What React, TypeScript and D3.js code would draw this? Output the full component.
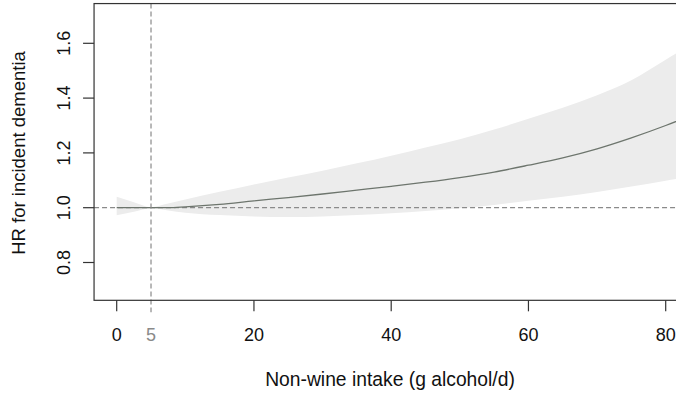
import React from "react";
import * as d3 from "d3";

// Restricted cubic spline fit: hazard ratio for incident dementia by non-wine intake
const intake = [0, 2.5, 5, 7.5, 10, 15, 20, 25, 30, 35, 40, 45, 50, 55, 60, 65, 70, 75, 80, 84];
const hr = [1.0, 1.0, 1.0, 1.0, 1.003, 1.012, 1.025, 1.037, 1.05, 1.064, 1.078, 1.093, 1.11, 1.13, 1.155, 1.182, 1.215, 1.255, 1.3, 1.34];
const upper = [1.04, 1.02, 1.002, 1.015, 1.03, 1.058, 1.085, 1.11, 1.135, 1.162, 1.19, 1.22, 1.25, 1.285, 1.325, 1.365, 1.41, 1.465, 1.54, 1.6];
const lower = [0.972, 0.985, 0.998, 0.99, 0.982, 0.973, 0.968, 0.966, 0.968, 0.973, 0.98, 0.988, 0.998, 1.01, 1.025, 1.04, 1.057, 1.077, 1.098, 1.115];

const xTicks = [0, 20, 40, 60, 80];
const yTicks = [0.8, 1.0, 1.2, 1.4, 1.6];
const refIntake = 5;
const refHR = 1.0;

const W = 676;
const H = 396;
const FONT = "'Liberation Sans', Arial, sans-serif";

export default function App() {
  const x = d3.scaleLinear().domain([0, 80]).range([116.7, 665.7]);
  const y = d3.scaleLinear().domain([1.0, 1.6]).range([207.7, 43.3]);

  const plotLeft = x(-3.3);
  const plotRight = x(87.4);
  const plotTop = y(1.745);
  const plotBottom = y(0.662);

  const rows = intake.map((v, i) => ({ v, hr: hr[i], lo: lower[i], hi: upper[i] }));

  const band = d3
    .area<(typeof rows)[number]>()
    .x((d) => x(d.v))
    .y0((d) => y(d.lo))
    .y1((d) => y(d.hi))
    .curve(d3.curveMonotoneX)(rows) as string;

  const line = d3
    .line<(typeof rows)[number]>()
    .x((d) => x(d.v))
    .y((d) => y(d.hr))
    .curve(d3.curveMonotoneX)(rows) as string;

  const tickLen = 11;
  const axisColor = "#333";
  const refColor = "#8a8a8a";

  return (
    <svg
      width={W}
      height={H}
      style={{ position: "absolute", left: 0, top: 0, background: "#fff" }}
      fontFamily={FONT}
    >
      <defs>
        <clipPath id="plot-area">
          <rect x={plotLeft} y={plotTop} width={plotRight - plotLeft} height={plotBottom - plotTop} />
        </clipPath>
      </defs>

      <g clipPath="url(#plot-area)">
        <path d={band} fill="#ececec" stroke="none" />
        <line
          x1={plotLeft}
          x2={plotRight}
          y1={y(refHR)}
          y2={y(refHR)}
          stroke={refColor}
          strokeWidth={1.2}
          strokeDasharray="5,3"
        />
        <path d={line} fill="none" stroke="#6d756d" strokeWidth={1.3} />
      </g>

      {/* reference intake marker, running down into the tick area */}
      <line
        x1={x(refIntake)}
        x2={x(refIntake)}
        y1={plotTop}
        y2={plotBottom + tickLen + 1}
        stroke={refColor}
        strokeWidth={1.2}
        strokeDasharray="5,3"
      />

      {/* plot frame */}
      <rect
        x={plotLeft}
        y={plotTop}
        width={plotRight - plotLeft}
        height={plotBottom - plotTop}
        fill="none"
        stroke={axisColor}
        strokeWidth={1.2}
      />

      {/* x axis */}
      {xTicks.map((t) => (
        <g key={`x${t}`}>
          <line x1={x(t)} x2={x(t)} y1={plotBottom} y2={plotBottom + tickLen} stroke={axisColor} strokeWidth={1.2} />
          <text x={x(t)} y={341} textAnchor="middle" fontSize={18} fill="#111">
            {t}
          </text>
        </g>
      ))}
      <text x={x(refIntake)} y={341} textAnchor="middle" fontSize={18} fill={refColor}>
        {refIntake}
      </text>

      {/* y axis */}
      {yTicks.map((t) => (
        <g key={`y${t}`}>
          <line x1={plotLeft - tickLen} x2={plotLeft} y1={y(t)} y2={y(t)} stroke={axisColor} strokeWidth={1.2} />
          <text
            transform={`translate(${70},${y(t)}) rotate(-90)`}
            textAnchor="middle"
            fontSize={18}
            fill="#111"
          >
            {t.toFixed(1)}
          </text>
        </g>
      ))}

      {/* axis titles */}
      <text x={390} y={386} textAnchor="middle" fontSize={19.3} fill="#111">
        Non-wine intake (g alcohol/d)
      </text>
      <text transform={`translate(25,153) rotate(-90)`} textAnchor="middle" fontSize={18.5} fill="#111">
        HR for incident dementia
      </text>
    </svg>
  );
}
